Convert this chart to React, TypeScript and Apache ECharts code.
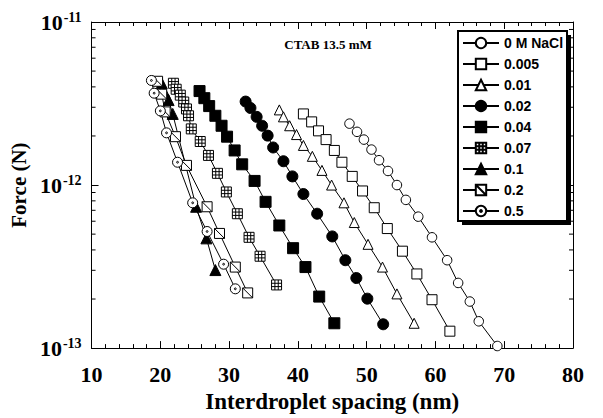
import React, { useEffect, useRef } from 'react';
import * as echarts from 'echarts';

// ---- data (x: interdroplet spacing nm, y: force N) ----
const seriesNames = ['0 M NaCl', '0.005', '0.01', '0.02', '0.04', '0.07', '0.1', '0.2', '0.5'];

const s0M = [[47.5, 2.38e-12], [48.6, 2.12e-12], [49.6, 1.9e-12], [50.7, 1.65e-12], [51.8, 1.42e-12], [53.1, 1.22e-12], [54.4, 1.0e-12], [55.7, 8.11e-13], [57.5, 6.4e-13], [59.5, 4.78e-13], [61.7, 3.46e-13], [63.3, 2.51e-13], [65.0, 1.93e-13], [66.3, 1.46e-13], [69.0, 1.03e-13]];
const s0005 = [[40.8, 2.73e-12], [42.0, 2.44e-12], [43.0, 2.15e-12], [44.1, 1.9e-12], [45.3, 1.63e-12], [46.4, 1.38e-12], [47.9, 1.13e-12], [49.4, 9.2e-13], [51.1, 7.26e-13], [53.0, 5.41e-13], [55.2, 3.93e-13], [57.3, 2.85e-13], [59.5, 1.98e-13], [62.1, 1.27e-13]];
const s001 = [[37.3, 2.89e-12], [37.9, 2.62e-12], [38.8, 2.31e-12], [39.8, 2.04e-12], [40.8, 1.75e-12], [42.1, 1.5e-12], [43.5, 1.23e-12], [44.9, 1.0e-12], [46.7, 7.78e-13], [48.2, 5.89e-13], [50.2, 4.33e-13], [52.3, 3.14e-13], [54.4, 2.15e-13], [56.9, 1.42e-13]];
const s002 = [[32.4, 3.25e-12], [33.1, 2.97e-12], [34.0, 2.62e-12], [34.8, 2.31e-12], [35.6, 2.01e-12], [36.4, 1.7e-12], [37.9, 1.4e-12], [39.2, 1.13e-12], [40.8, 8.81e-13], [42.8, 6.67e-13], [45.0, 4.84e-13], [46.9, 3.46e-13], [48.5, 2.69e-13], [50.1, 2.01e-13], [52.4, 1.4e-13]];
const s004 = [[25.7, 3.77e-12], [26.4, 3.41e-12], [27.1, 3.05e-12], [28.0, 2.66e-12], [28.9, 2.31e-12], [29.7, 1.98e-12], [30.8, 1.63e-12], [31.9, 1.34e-12], [33.7, 1.06e-12], [35.3, 7.89e-13], [37.3, 5.65e-13], [39.3, 4.1e-13], [41.1, 3.14e-13], [43.1, 2.07e-13], [45.3, 1.42e-13]];
const s007 = [[21.9, 4.21e-12], [22.3, 3.87e-12], [22.9, 3.56e-12], [23.4, 3.23e-12], [23.8, 2.93e-12], [24.1, 2.66e-12], [24.5, 2.21e-12], [25.8, 1.85e-12], [27.0, 1.52e-12], [28.3, 1.18e-12], [29.6, 9.07e-13], [31.2, 6.67e-13], [32.9, 4.78e-13], [34.5, 3.66e-13], [36.9, 2.44e-13]];
const s01 = [[20.2, 4.21e-12], [20.6, 3.71e-12], [21.2, 3.32e-12], [21.8, 2.73e-12], [25.2, 7.36e-13], [26.7, 4.71e-13], [28.0, 3.01e-13]];
const s02 = [[19.6, 4.33e-12], [20.2, 3.61e-12], [20.7, 2.81e-12], [22.2, 1.98e-12], [23.8, 1.32e-12], [26.8, 7.36e-13], [28.6, 5.05e-13], [30.9, 3.14e-13], [32.7, 2.18e-13]];
const s05 = [[18.7, 4.38e-12], [19.1, 3.66e-12], [20.0, 2.85e-12], [20.9, 2.09e-12], [22.5, 1.38e-12], [24.7, 7.78e-13], [26.8, 5.19e-13], [29.2, 3.27e-13], [30.9, 2.31e-13]];

const xMin = 10;
const xMax = 80;
const xInterval = 10;
const yMin = 1e-13;
const yMax = 1e-11;
const yMinorTicks = [2e-13, 3e-13, 4e-13, 5e-13, 6e-13, 7e-13, 8e-13, 9e-13, 2e-12, 3e-12, 4e-12, 5e-12, 6e-12, 7e-12, 8e-12, 9e-12];

const SYM_GRID = 'path://M0,0L10,0L10,10L0,10Z M3.33,0L3.33,10 M6.67,0L6.67,10 M0,3.33L10,3.33 M0,6.67L10,6.67';
const SYM_DIAG = 'path://M0,0L10,0L10,10L0,10Z M0,0L10,10';
const SYM_DOT = 'path://M0,5A5,5,0,1,1,10,5A5,5,0,1,1,0,5Z M4.1,5A0.9,0.9,0,1,1,5.9,5A0.9,0.9,0,1,1,4.1,5Z';

const SERIF = '"Liberation Serif", "Times New Roman", serif';
const SANS = '"Liberation Sans", Arial, sans-serif';

function mk(name: string, data: number[][], symbol: string, size: number, filled: boolean) {
  return {
    type: 'line',
    name,
    data,
    symbol,
    symbolSize: size,
    symbolKeepAspect: true,
    showSymbol: true,
    lineStyle: { color: '#000', width: 1 },
    itemStyle: { color: filled ? '#000' : '#fff', borderColor: '#000', borderWidth: 1 },
    emphasis: { disabled: true },
    silent: true,
    z: 2,
  };
}

export default function App() {
  const ref = useRef<HTMLDivElement>(null);
  useEffect(() => {
    if (!ref.current) return;
    const chart = echarts.init(ref.current, undefined, { renderer: 'svg' });
    const tickStyle = { inside: true, length: 7, lineStyle: { color: '#000', width: 1 } };
    const minorStyle = { show: true, splitNumber: 5, length: 4, lineStyle: { color: '#000', width: 1 } };
    const lineAxis = { show: true, lineStyle: { color: '#000', width: 1 } };
    const option: any = {
      animation: false,
      backgroundColor: '#fff',
      grid: { left: 91, right: 30, top: 22, bottom: 66, containLabel: false },
      xAxis: [
        {
          type: 'value', min: xMin, max: xMax, interval: xInterval, position: 'bottom',
          axisLine: lineAxis, axisTick: tickStyle, minorTick: minorStyle, splitLine: { show: false },
          axisLabel: { margin: 15, color: '#000', fontFamily: SERIF, fontWeight: 'bold', fontSize: 22 },
          name: 'Interdroplet spacing (nm)', nameLocation: 'middle', nameGap: 41,
          nameTextStyle: { color: '#000', fontFamily: SERIF, fontWeight: 'bold', fontSize: 23 },
        },
        {
          type: 'value', min: xMin, max: xMax, interval: xInterval, position: 'top',
          axisLine: lineAxis, axisTick: tickStyle, minorTick: minorStyle, splitLine: { show: false },
          axisLabel: { show: false },
        },
      ],
      yAxis: [
        {
          type: 'log', logBase: 10, min: yMin, max: yMax, position: 'left',
          axisLine: lineAxis, axisTick: tickStyle, splitLine: { show: false },
          axisLabel: {
            margin: 10,
            formatter: (v: number) => '{b|10}{s|' + Math.round(Math.log10(v)) + '}',
            rich: {
              b: { fontFamily: SERIF, fontWeight: 'bold', fontSize: 22, color: '#000', lineHeight: 24 },
              s: { fontFamily: SERIF, fontWeight: 'bold', fontSize: 14, color: '#000', verticalAlign: 'top', lineHeight: 24, padding: [0, 0, 0, 1] },
            },
          },
          name: 'Force (N)', nameLocation: 'middle', nameGap: 58,
          nameTextStyle: { color: '#000', fontFamily: SERIF, fontWeight: 'bold', fontSize: 21 },
        },
        {
          type: 'log', logBase: 10, min: yMin, max: yMax, position: 'right',
          axisLine: lineAxis, axisTick: tickStyle, splitLine: { show: false },
          axisLabel: { show: false },
        },
      ],
      legend: {
        data: seriesNames,
        orient: 'vertical',
        left: 462,
        top: 36,
        padding: 0,
        itemWidth: 36,
        itemHeight: 13,
        itemGap: 7,
        selectedMode: false,
        textStyle: { fontFamily: SANS, fontWeight: 'bold', fontSize: 14, color: '#000' },
        z: 10,
      },
      graphic: [
        { type: 'rect', z: 5, shape: { x: 462, y: 35, width: 109, height: 190 }, style: { fill: '#000' } },
        { type: 'rect', z: 6, shape: { x: 458, y: 31, width: 109, height: 190 }, style: { fill: '#fff', stroke: '#000', lineWidth: 2 } },
        {
          type: 'text', z: 6, x: 328, y: 44,
          style: {
            text: 'CTAB 13.5 mM', font: 'bold 13px ' + SERIF, fill: '#000',
            align: 'center', verticalAlign: 'middle', textAlign: 'center', textVerticalAlign: 'middle',
          },
        },
      ],
      series: [
        mk(seriesNames[0], s0M, 'circle', 9.5, false),
        mk(seriesNames[1], s0005, 'rect', 10, false),
        mk(seriesNames[2], s001, 'triangle', 10, false),
        mk(seriesNames[3], s002, 'circle', 11, true),
        mk(seriesNames[4], s004, 'rect', 11, true),
        mk(seriesNames[5], s007, SYM_GRID, 10, false),
        mk(seriesNames[6], s01, 'triangle', 11, true),
        mk(seriesNames[7], s02, SYM_DIAG, 10, false),
        mk(seriesNames[8], s05, SYM_DOT, 10, false),
        {
          type: 'custom',
          silent: true,
          z: 3,
          data: yMinorTicks.map((v) => [xMin, v]),
          encode: { x: 0, y: 1 },
          renderItem: (params: any, api: any) => {
            const v = api.value(1);
            const p1 = api.coord([xMin, v]);
            const p2 = api.coord([xMax, v]);
            return {
              type: 'group',
              children: [
                { type: 'line', shape: { x1: p1[0], y1: p1[1], x2: p1[0] + 4, y2: p1[1] }, style: { stroke: '#000', lineWidth: 1 } },
                { type: 'line', shape: { x1: p2[0] - 4, y1: p2[1], x2: p2[0], y2: p2[1] }, style: { stroke: '#000', lineWidth: 1 } },
              ],
            };
          },
        },
      ],
    };
    chart.setOption(option);
    return () => chart.dispose();
  }, []);
  return <div ref={ref} style={{ position: 'absolute', left: 0, top: 0, width: 603, height: 418 }} />;
}
